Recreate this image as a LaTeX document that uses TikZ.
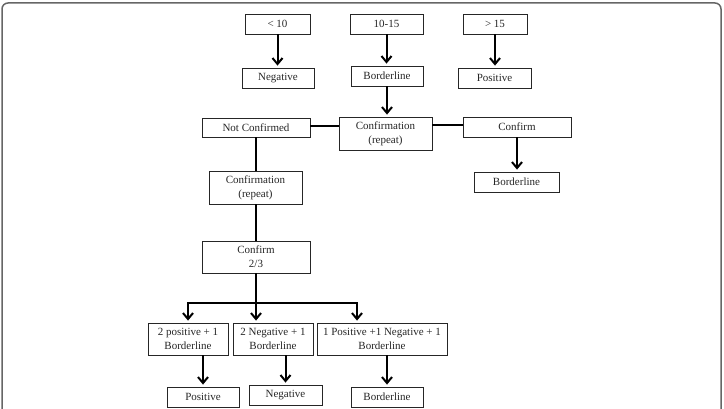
\documentclass[tikz,border=0pt]{standalone}
\usepackage{fontspec}
\setmainfont{Liberation Serif}
\usetikzlibrary{arrows.meta}
\begin{document}
\begin{tikzpicture}[x=1pt,y=-1pt,
  box/.style={draw=black!85,line width=0.8pt,inner sep=0pt,align=center,
    font=\fontsize{11}{14}\selectfont,text=black!85},
  arr/.style={line width=2pt,-{Straight Barb[length=6pt,width=10pt,line width=2pt]},shorten >=2pt},
  link/.style={line width=2pt}]
\useasboundingbox (0,0) rectangle (724,409);
\draw[black!60,line width=1.5pt,rounded corners=6pt] (2,425) -- (2,3) -- (721,3) -- (721,425);
% top row
\node[box,minimum width=65,minimum height=20] (lt) at (277.5,24) {< 10};
\node[box,minimum width=73,minimum height=20] (mt) at (386.5,24) {10-15};
\node[box,minimum width=64,minimum height=20] (rt) at (495,24) {> 15};
\node[box,minimum width=72,minimum height=20] (neg1) at (278,78) {Negative};
\node[box,minimum width=72,minimum height=20] (bord1) at (387,76) {Borderline};
\node[box,minimum width=73,minimum height=20] (pos1) at (494.5,78) {Positive};
% confirmation row
\node[box,minimum width=93,minimum height=33] (conf) at (385.5,133.5) {Confirmation\\(repeat)};
\node[box,minimum width=108,minimum height=19] (notc) at (256,127.5) {Not Confirmed};
\node[box,minimum width=108,minimum height=20] (confirm) at (517,127) {Confirm};
\node[box,minimum width=85,minimum height=20] (bord2) at (516.5,182) {Borderline};
\node[box,minimum width=93,minimum height=33] (conf2) at (255.5,187.5) {Confirmation\\(repeat)};
\node[box,minimum width=108,minimum height=32] (c23) at (256,257) {Confirm\\2/3};
% bottom
\node[box,minimum width=80,minimum height=32] (b1) at (188,339) {2 positive + 1\\Borderline};
\node[box,minimum width=80,minimum height=32] (b2) at (273,339) {2 Negative + 1\\Borderline};
\node[box,minimum width=130,minimum height=32] (b3) at (382,339) {1 Positive +1 Negative + 1\\Borderline};
\node[box,minimum width=72,minimum height=20] (pos2) at (203,397) {Positive};
\node[box,minimum width=73,minimum height=20] (neg2) at (285.5,395) {Negative};
\node[box,minimum width=72,minimum height=20] (bord3) at (387,397) {Borderline};
% arrows
\draw[arr] (lt) -- (lt.south |- neg1.north);
\draw[arr] (mt) -- (mt.south |- bord1.north);
\draw[arr] (rt) -- (rt.south |- pos1.north);
\draw[arr] (bord1) -- (bord1.south |- conf.north);
\draw[link] (notc.east |- 0,126) -- (conf.west |- 0,126);
\draw[link] (conf.east |- 0,125) -- (confirm.west |- 0,125);
\draw[arr] (confirm) -- (confirm.south |- bord2.north);
\draw[link] (notc) -- (notc.south |- conf2.north);
\draw[link] (conf2) -- (conf2.south |- c23.north);
\coordinate (split) at (256,303);
\coordinate (splitL) at (188,303);
\coordinate (splitR) at (357,303);
\draw[link] (c23.south) -- (split);
\draw[link,line cap=rect] (splitL) -- (splitR);
\draw[arr] (splitL) -- (splitL |- b1.north);
\draw[arr] (split) -- (split |- b2.north);
\draw[arr] (splitR) -- (splitR |- b3.north);
\draw[arr] (pos2.north |- b1.south) -- (pos2.north);
\draw[arr] (neg2.north |- b2.south) -- (neg2.north);
\draw[arr] (bord3.north |- b3.south) -- (bord3.north);
\end{tikzpicture}
\end{document}
